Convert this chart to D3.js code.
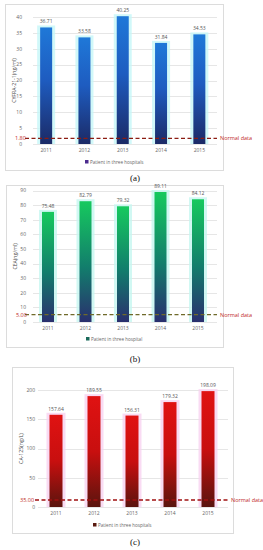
<!DOCTYPE html>
<html><head><meta charset="utf-8">
<script src="https://cdn.jsdelivr.net/npm/d3@7"></script>
<style>body{margin:0;background:#fff;}svg{display:block;font-family:"Open Sans",Arial,sans-serif;}</style>
</head><body>
<script>
const years = ["2011","2012","2013","2014","2015"];
const cyfraValues = [36.71, 33.58, 40.25, 31.84, 34.53];
const ceaValues = [75.48, 82.79, 79.32, 89.11, 84.12];
const caValues = [157.64, 189.55, 156.31, 179.32, 198.09];
const yTicksA = [0,5,10,15,20,25,30,35,40];
const yTicksB = [0,10,20,30,40,50,60,70,80,90];
const yTicksC = [0,50,100,150,200];
const yTitles = ["CYFRA-21-1(ng/ml)", "CEA(ng/ml)", "CA-125(ng/L)"];
const normalLabels = ["1.80", "5.00", "35.00"];
const normalValues = [1.8, 5.0, 12];
const legendLabels = ["Patient in three hospitals", "Patient in three hospital", "Patient in three hospitals"];
const captions = ["(a)", "(b)", "(c)"];

const W = 263, H = 550;
const svg = d3.select("body").append("svg").attr("width", W).attr("height", H);
const defs = svg.append("defs");

const panels = [
  {vals: cyfraValues, ticks: yTicksA, max: 40, frame:[5,4,218,166], yTop:17, yBot:144, xr:[27,218.5], grid:[33,217], tickX:22, titleX:14,
   stops:[["0%","#1f78d8"],["45%","#1e5cc0"],["100%","#1b2a66"]], halo:"#c6f6f8", line:"#8b1c12", legendColor:"#4b2a8e",
   normX:15, lineX:[25,217], legX:87, legY:162, cap:178, bw:12},
  {vals: ceaValues, ticks: yTicksB, max: 90, frame:[6,185,217,162], yTop:190.7, yBot:322, xr:[29.25,216.75], grid:[33,217], tickX:26, titleX:15,
   stops:[["0%","#16c95e"],["55%","#127d6c"],["100%","#2a2f6e"]], halo:"#c6f6f0", line:"#6f6a2a", legendColor:"#1a6a5a",
   normX:16, lineX:[25,217], legX:88, legY:339, cap:359, bw:12},
  {vals: caValues, ticks: yTicksC, max: 200, frame:[12,367,221,166], yTop:390, yBot:507, xr:[37,227], grid:[38,228], tickX:35, titleX:21,
   stops:[["0%","#e01212"],["50%","#c80f0f"],["100%","#5a140e"]], halo:"#f8d2f0", line:"#a01010", legendColor:"#5a1a10",
   normX:20, lineX:[35,228], legX:95, legY:525, cap:542, bw:13}
];

panels.forEach((p, i) => {
  const g = svg.append("g");
  g.append("rect").attr("x", p.frame[0]+0.5).attr("y", p.frame[1]+0.5).attr("width", p.frame[2]).attr("height", p.frame[3])
    .attr("fill", "#fff").attr("stroke", "#dcdcdc").attr("stroke-width", 1);

  const x = d3.scaleBand().domain(years).range(p.xr).paddingInner(0).paddingOuter(0);
  const y = d3.scaleLinear().domain([0, p.max]).range([p.yBot, p.yTop]);

  // gridlines
  g.selectAll(".grid").data(p.ticks).enter().append("line")
    .attr("x1", p.grid[0]).attr("x2", p.grid[1])
    .attr("y1", d => Math.round(y(d))+0.5).attr("y2", d => Math.round(y(d))+0.5)
    .attr("stroke", "#e6e6e6").attr("stroke-width", 1);

  // y tick labels
  g.selectAll(".yt").data(p.ticks).enter().append("text")
    .attr("x", p.tickX).attr("y", d => y(d)).attr("dy", "0.35em")
    .attr("text-anchor", "end").attr("font-size", 5).attr("fill", "#666").text(d => d);

  // y title
  g.append("text").attr("transform", `translate(${p.titleX},${(p.yTop+p.yBot)/2}) rotate(-90)`)
    .attr("text-anchor", "middle").attr("font-size", 5.2).attr("fill", "#444").attr("dy","0.35em").text(yTitles[i]);

  // gradient
  const gid = "grad" + i;
  const lg = defs.append("linearGradient").attr("id", gid).attr("x1", 0).attr("y1", 0).attr("x2", 0).attr("y2", 1);
  p.stops.forEach(s => lg.append("stop").attr("offset", s[0]).attr("stop-color", s[1]));

  const bx = d => x(d) + x.bandwidth()/2 - p.bw/2;
  // halos
  g.selectAll(".halo").data(p.vals).enter().append("rect")
    .attr("x", (d, j) => bx(years[j]) - 3).attr("y", d => y(d) - 2)
    .attr("width", p.bw + 6).attr("height", d => p.yBot - y(d) + 2)
    .attr("fill", p.halo).attr("opacity", 0.8);
  // bars
  g.selectAll(".bar").data(p.vals).enter().append("rect")
    .attr("x", (d, j) => bx(years[j])).attr("y", d => y(d))
    .attr("width", p.bw).attr("height", d => p.yBot - y(d))
    .attr("fill", `url(#${gid})`);
  // value labels
  g.selectAll(".vl").data(p.vals).enter().append("text")
    .attr("x", (d, j) => x(years[j]) + x.bandwidth()/2).attr("y", d => y(d) - 4)
    .attr("text-anchor", "middle").attr("font-size", 5).attr("fill", "#555").text(d => d.toFixed(2));

  // x labels
  g.selectAll(".xl").data(years).enter().append("text")
    .attr("x", d => x(d) + x.bandwidth()/2).attr("y", p.yBot + 6).attr("dy", "0.35em")
    .attr("text-anchor", "middle").attr("font-size", 5).attr("fill", "#666").text(d => d);

  // normal line
  const ny = y(normalValues[i]);
  g.append("line").attr("x1", p.lineX[0]).attr("x2", p.lineX[1]).attr("y1", ny).attr("y2", ny)
    .attr("stroke", p.line).attr("stroke-width", 1.3).attr("stroke-dasharray", "4,2.5");
  g.append("text").attr("x", p.normX).attr("y", ny).attr("dy", "0.35em").attr("font-size", 5.5)
    .attr("fill", "#c0281e").attr("text-anchor", "start").text(normalLabels[i]);
  g.append("text").attr("x", p.lineX[1] + 3).attr("y", ny).attr("dy", "0.35em").attr("font-size", 5.5)
    .attr("fill", "#c0281e").text("Normal data");

  // legend
  g.append("rect").attr("x", p.legX - 2).attr("y", p.legY - 2).attr("width", 3.5).attr("height", 3.5).attr("fill", p.legendColor);
  g.append("text").attr("x", p.legX + 3).attr("y", p.legY).attr("dy", "0.35em").attr("font-size", 4.6)
    .attr("fill", "#666").text(legendLabels[i]);

  // caption
  svg.append("text").attr("x", 135).attr("y", p.cap).attr("dy", "0.35em").attr("text-anchor", "middle")
    .attr("font-family", "Liberation Serif, serif").attr("font-size", 9).attr("fill", "#111").text(captions[i]);
});
</script>
</body></html>
